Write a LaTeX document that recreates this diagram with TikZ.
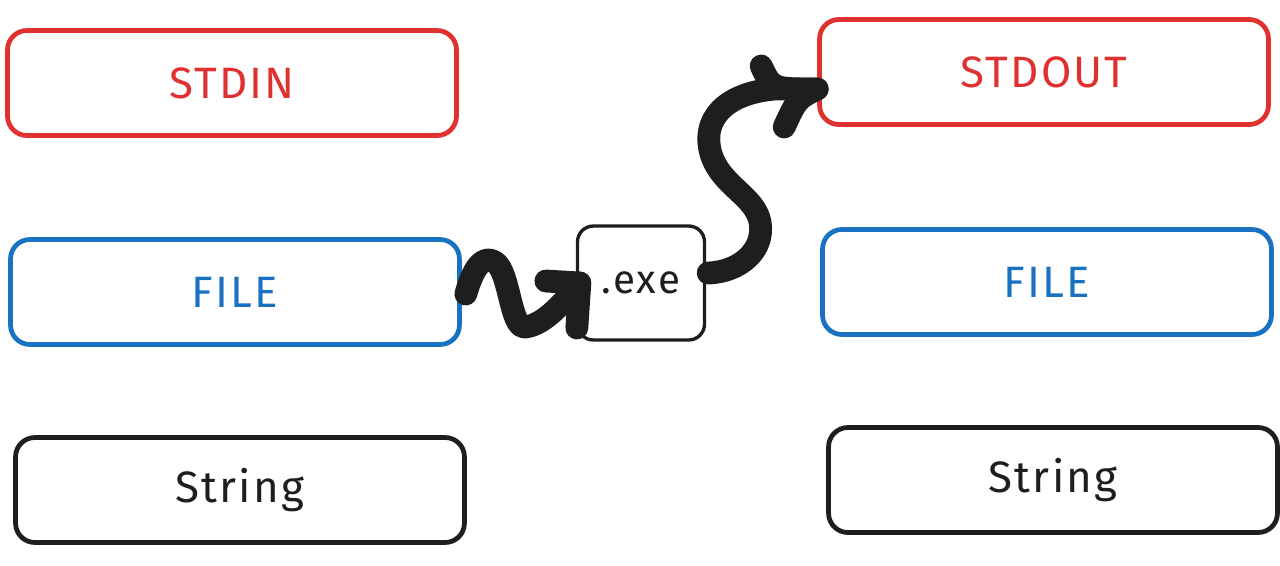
\documentclass[tikz,border=0pt]{standalone}
\usepackage{fontspec}
\setmainfont{Fira Sans}[LetterSpace=5]
\usetikzlibrary{calc}
\definecolor{xred}{HTML}{E03131}
\definecolor{xblue}{HTML}{1971C2}
\definecolor{xblack}{HTML}{1E1E1E}
\begin{document}
\begin{tikzpicture}[x=0.02cm,y=-0.02cm,
  card/.style={draw, rectangle, rounded corners=11pt, line width=2.7pt,
    minimum width=8.98cm, minimum height=2.1cm, font=\fontsize{25}{29}\selectfont},
  redcard/.style={card, draw=xred, text=xred},
  bluecard/.style={card, draw=xblue, text=xblue},
  blackcard/.style={card, draw=xblack, text=xblack},
  exebox/.style={draw=xblack, rectangle, rounded corners=9pt, line width=1.9pt,
    minimum width=2.54cm, minimum height=2.28cm, text=xblack, font=\fontsize{23}{27}\selectfont},
  flow/.style={draw=xblack, line width=13pt, line cap=round, line join=round}
]
\useasboundingbox (0,0) rectangle (1280,565);
\node[redcard]   (stdin)   at (232,83)    {STDIN};
\node[bluecard]  (filel)   at (235,292)   {FILE};
\node[blackcard] (strl)    at (240,490)   {String};
\node[exebox]    (exe)     at (641,283)   {.exe};
\node[redcard]   (stdout)  at (1044,72)   {STDOUT};
\node[bluecard]  (filer)   at (1047,282)  {FILE};
\node[blackcard] (strr)    at (1053,480)  {String};
% arrow FILE -> .exe
\coordinate (t1) at ($(exe.west)+(4,0)$);
\draw[flow] ($(filel.east)+(4,2)$) .. controls (475,262) and (485,256) .. (495,262)
  .. controls (510,272) and (510,328) .. (525,327)
  .. controls (545,325) and (565,300) .. (t1);
\draw[flow] ($(t1)+(-34,-2)$) -- (t1) -- ($(t1)+(-3,45)$);
% arrow .exe -> STDOUT
\coordinate (t2) at ($(stdout.west)+(0,17)$);
\draw[flow] ($(exe.east)+(2,-10)$) .. controls (740,272) and (765,250) .. (760,222)
  .. controls (755,195) and (718,185) .. (710,150)
  .. controls (702,112) and (735,92) .. (775,89) -- (t2);
\draw[flow] ($(t2)+(-56,-23)$) .. controls ($(t2)+(-45,0)$) .. (t2)
  .. controls ($(t2)+(-20,10)$) .. ($(t2)+(-33,38)$);
\end{tikzpicture}
\end{document}
